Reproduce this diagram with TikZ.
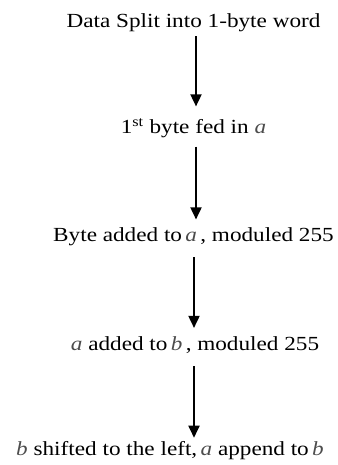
\documentclass[tikz,border=0pt]{standalone}
\usepackage{fontspec}
\setmainfont{Liberation Serif}[FakeStretch=1.16]
\usetikzlibrary{arrows.meta}
\begin{document}
\begin{tikzpicture}[x=1pt,y=-1pt,
  lbl/.style={font=\fontsize{20}{24}\selectfont, inner sep=0pt, anchor=base},
  flow/.style={line width=1.8pt, -{Triangle[width=11pt,length=12pt]}}]
\useasboundingbox (0,0) rectangle (337,465);
\newcommand{\va}{\textit{\color{black!70}a}}
\newcommand{\vb}{\textit{\color{black!70}b}}
\node[lbl] (n1) at (193.5,27.5) {Data Split into 1-byte word};
\node[lbl] (n2) at (193.5,134) {1\textsuperscript{st} byte fed in \va};
\node[lbl] (n3) at (193.5,241.5) {Byte added to\,\va\,, moduled 255};
\node[lbl] (n4) at (195,350) {\va\ added to\,\vb\,, moduled 255};
\node[lbl] (n5) at (170,455) {\vb\ shifted to the left,\,\va\ append to\,\vb};
\draw[flow, shorten <=4pt, shorten >=12pt] ([xshift=2.5pt]n1.south) -- ([xshift=2.5pt]n1.south |- n2.north);
\draw[flow, shorten <=8pt, shorten >=8pt] ([xshift=2.5pt]n2.south) -- ([xshift=2.5pt]n2.south |- n3.north);
\draw[flow, shorten <=11pt, shorten >=8pt] ([xshift=0.5pt]n3.south) -- ([xshift=0.5pt]n3.south |- n4.north);
\draw[flow, shorten <=13pt, shorten >=3pt] ([xshift=-1pt]n4.south) -- ([xshift=-1pt]n4.south |- n5.north);
\end{tikzpicture}
\end{document}
